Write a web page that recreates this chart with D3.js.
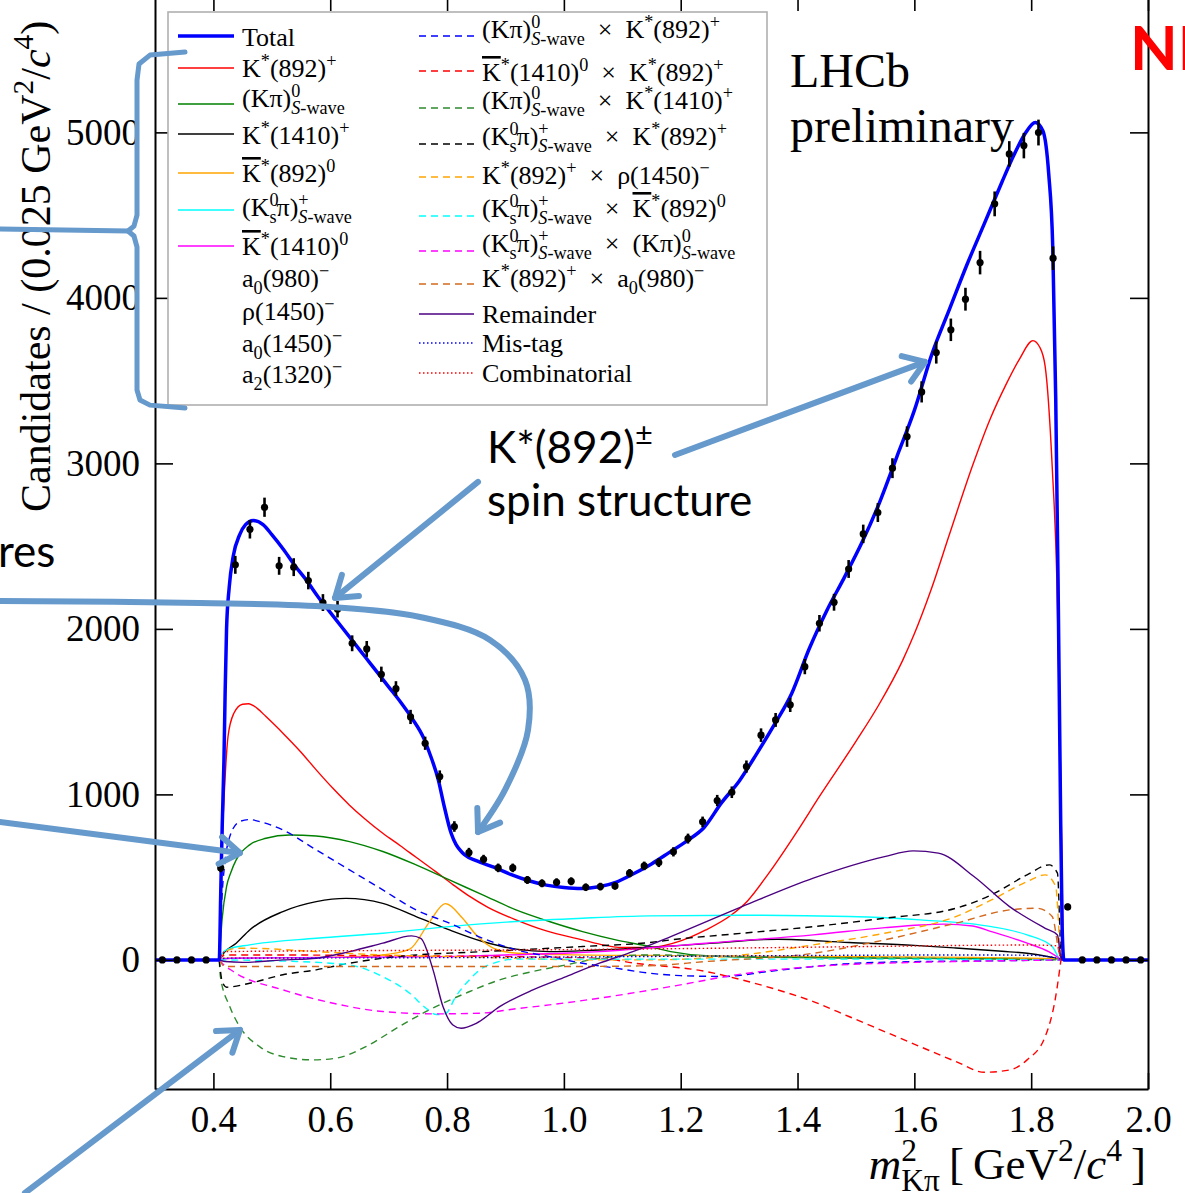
<!DOCTYPE html>
<html>
<head>
<meta charset="utf-8">
<script src="https://cdn.jsdelivr.net/npm/d3@7"></script>
<style>
  body { margin: 0; background: #fff; overflow: hidden; }
  svg { display: block; }
</style>
</head>
<body>
<svg id="chart" width="1185" height="1193"></svg>
<script>
// ---- data (x in GeV^2/c^4, y in candidates / 0.025) ----
const xTicks = [0.4, 0.6, 0.8, 1.0, 1.2, 1.4, 1.6, 1.8, 2.0];
const yTicks = [0, 1000, 2000, 3000, 4000, 5000];

const binCenters = [0.3125,0.3375,0.3625,0.3875,0.4125,0.4375,0.4625,0.4875,0.5125,0.5375,
  0.5625,0.5875,0.6125,0.6375,0.6625,0.6875,0.7125,0.7375,0.7625,0.7875,0.8125,0.8375,
  0.8625,0.8875,0.9125,0.9375,0.9625,0.9875,1.0125,1.0375,1.0625,1.0875,1.1125,1.1375,
  1.1625,1.1875,1.2125,1.2375,1.2625,1.2875,1.3125,1.3375,1.3625,1.3875,1.4125,1.4375,
  1.4625,1.4875,1.5125,1.5375,1.5625,1.5875,1.6125,1.6375,1.6625,1.6875,1.7125,1.7375,
  1.7625,1.7875,1.8125,1.8375,1.8625,1.8875,1.9125,1.9375,1.9625,1.9875];
const binCounts = [0,0,0,0,556,2387,2602,2735,2381,2373,2292,2159,2119,1913,1879,1726,
  1639,1468,1309,1108,806,649,608,556,556,483,463,469,475,439,443,447,524,568,588,653,
  733,834,963,1013,1168,1358,1450,1541,1772,2034,2161,2362,2574,2703,2971,3162,3432,
  3670,3807,3992,4213,4568,4870,4920,4999,4240,320,0,0,0,0,0];
const binErrors = [0,0,0,0,26,54,56,58,54,54,53,51,50,48,48,46,45,43,40,37,32,28,27,
  26,26,24,24,24,24,23,23,23,25,26,27,28,30,32,34,35,37,41,42,43,46,50,51,54,56,57,
  60,62,64,67,68,69,71,75,77,77,78,71,20,0,0,0,0,0];

const totalFit = [[0.30,0],[0.41,0],[0.4125,400],[0.415,800],[0.418,1200],[0.42,1600],
  [0.4225,2000],[0.427,2250],[0.434,2440],[0.445,2570],[0.455,2630],[0.468,2655],
  [0.485,2630],[0.50,2570],[0.52,2480],[0.54,2380],[0.56,2290],[0.58,2190],[0.60,2100],
  [0.62,2010],[0.64,1920],[0.66,1830],[0.68,1740],[0.70,1650],[0.72,1560],[0.74,1460],
  [0.76,1340],[0.77,1250],[0.785,1088],[0.795,930],[0.807,765],[0.815,700],[0.822,665],
  [0.83,635],[0.85,600],[0.88,560],[0.91,515],[0.94,478],[0.97,452],[1.00,438],
  [1.03,432],[1.06,442],[1.09,470],[1.12,522],[1.15,580],[1.18,648],[1.21,718],
  [1.24,800],[1.27,950],[1.30,1080],[1.33,1245],[1.36,1420],[1.39,1610],[1.42,1880],
  [1.45,2110],[1.48,2310],[1.51,2520],[1.54,2760],[1.57,3040],[1.60,3320],[1.63,3660],
  [1.66,3930],[1.69,4200],[1.72,4450],[1.75,4700],[1.77,4860],[1.79,4995],[1.807,5060],
  [1.82,5010],[1.83,4750],[1.837,4300],[1.842,3400],[1.846,2300],[1.85,1000],
  [1.853,200],[1.856,0],[2.0,0]];

const kst892 = [[0.41,0],[0.412,300],[0.415,700],[0.42,1100],[0.425,1350],[0.435,1490],
  [0.45,1545],[0.46,1548],[0.475,1520],[0.49,1470],[0.519,1370],[0.55,1255],[0.576,1148],
  [0.605,1035],[0.633,935],[0.66,850],[0.69,765],[0.72,690],[0.747,620],[0.78,535],
  [0.81,455],[0.838,385],[0.87,318],[0.918,242],[0.97,175],[1.032,121],[1.061,95],
  [1.10,75],[1.146,75],[1.20,115],[1.243,181],[1.286,270],[1.314,355],[1.35,520],
  [1.40,780],[1.437,985],[1.50,1320],[1.539,1540],[1.58,1810],[1.60,1970],[1.628,2230],
  [1.66,2570],[1.70,2990],[1.73,3270],[1.756,3470],[1.78,3630],[1.803,3742],[1.815,3700],
  [1.824,3585],[1.836,2981],[1.844,2296],[1.85,1200],[1.855,0]];
const kpiSwave = [[0.41,0],[0.415,250],[0.4225,443],[0.43,530],[0.439,604],[0.462,695],
  [0.49,735],[0.53,755],[0.576,749],[0.633,715],[0.69,655],[0.747,574],[0.804,483],
  [0.861,393],[0.918,302],[0.975,232],[1.032,171],[1.089,121],[1.146,81],[1.183,50],
  [1.243,25],[1.35,15],[1.6,10],[1.8,8],[1.85,3],[1.855,0]];
const kst1410 = [[0.41,0],[0.42,50],[0.439,101],[0.462,181],[0.519,292],[0.576,352],
  [0.627,372],[0.69,342],[0.747,262],[0.804,181],[0.861,111],[0.918,65],[0.975,50],
  [1.05,58],[1.146,75],[1.25,100],[1.366,125],[1.488,105],[1.60,88],[1.671,72],
  [1.75,52],[1.793,40],[1.848,4],[1.852,0]];
const kstBar892 = [[0.41,0],[0.42,10],[0.5,12],[0.6,15],[0.69,30],[0.736,65],[0.77,230],
  [0.797,340],[0.827,250],[0.85,150],[0.88,70],[0.92,40],[1.0,32],[1.2,25],[1.5,20],
  [1.7,15],[1.85,5],[1.852,0]];
const k0piSwave = [[0.41,0],[0.415,40],[0.425,65],[0.462,91],[0.576,131],[0.69,161],
  [0.804,201],[0.918,232],[1.032,252],[1.146,266],[1.305,270],[1.488,262],[1.61,242],
  [1.732,201],[1.793,151],[1.836,81],[1.848,10],[1.852,0]];
const kstBar1410 = [[0.41,0],[0.43,10],[0.6,15],[0.8,20],[0.9,30],[1.0,40],[1.061,50],
  [1.243,101],[1.427,151],[1.55,195],[1.61,211],[1.65,216],[1.70,205],[1.732,171],
  [1.793,101],[1.83,50],[1.848,10],[1.852,0]];
const remainder = [[0.41,0],[0.42,-10],[0.45,-15],[0.519,0],[0.576,10],[0.633,50],
  [0.69,101],[0.739,145],[0.755,130],[0.776,-60],[0.793,-282],[0.81,-393],[0.824,-413],
  [0.85,-383],[0.89,-282],[0.947,-181],[1.004,-101],[1.061,-20],[1.118,50],[1.183,141],
  [1.305,322],[1.427,494],[1.549,624],[1.598,659],[1.641,645],[1.702,504],[1.763,322],
  [1.824,191],[1.845,151],[1.851,10],[1.853,0]];
const misTag = [[0.41,0],[0.42,10],[0.6,12],[0.9,15],[1.2,22],[1.5,28],[1.7,30],
  [1.8,28],[1.85,5],[1.852,0]];
const combinatorial = [[0.41,0],[0.42,50],[0.6,55],[0.9,60],[1.1,65],[1.3,72],[1.5,80],
  [1.7,88],[1.8,90],[1.845,85],[1.85,0]];

const xKpiK892 = [[0.41,0],[0.415,400],[0.42,600],[0.428,745],[0.445,836],[0.462,848],
  [0.48,835],[0.519,785],[0.576,665],[0.633,544],[0.69,423],[0.747,302],[0.804,222],
  [0.861,131],[0.918,61],[0.975,20],[1.032,-20],[1.089,-50],[1.146,-80],[1.20,-95],
  [1.274,-100],[1.35,-70],[1.427,-40],[1.5,-20],[1.609,-10],[1.75,-5],[1.855,0]];
const xK1410K892 = [[0.41,0],[0.42,30],[0.5,30],[0.7,25],[0.9,20],[1.061,10],[1.122,-20],
  [1.243,-70],[1.305,-121],[1.366,-181],[1.427,-252],[1.488,-342],[1.549,-433],
  [1.61,-524],[1.671,-614],[1.72,-679],[1.763,-665],[1.793,-604],[1.824,-463],
  [1.842,-221],[1.851,0]];
const xKpiK1410 = [[0.41,0],[0.412,-101],[0.428,-282],[0.445,-403],[0.479,-524],
  [0.519,-584],[0.57,-604],[0.61,-594],[0.661,-524],[0.718,-403],[0.775,-292],
  [0.832,-201],[0.89,-121],[0.947,-70],[1.004,-30],[1.061,10],[1.146,30],[1.3,20],
  [1.6,10],[1.85,0]];
const xK0piK892 = [[0.41,0],[0.415,-130],[0.4225,-165],[0.462,-141],[0.519,-90],
  [0.576,-60],[0.633,-20],[0.69,10],[0.747,30],[0.832,45],[0.918,60],[1.032,81],
  [1.146,105],[1.183,121],[1.305,161],[1.427,201],[1.549,252],[1.671,312],[1.732,393],
  [1.793,514],[1.831,574],[1.845,524],[1.851,40],[1.853,0]];
const xK892Rho = [[0.41,0],[0.42,50],[0.44,70],[0.462,70],[0.576,50],[0.69,30],
  [0.804,20],[0.918,10],[1.032,0],[1.146,0],[1.305,30],[1.427,91],[1.549,161],
  [1.671,262],[1.732,362],[1.793,473],[1.824,514],[1.842,443],[1.851,20],[1.853,0]];
const xK0piKbar892 = [[0.41,0],[0.5,-5],[0.6,-20],[0.633,-30],[0.69,-101],[0.736,-201],
  [0.764,-292],[0.782,-330],[0.797,-325],[0.815,-221],[0.838,-121],[0.856,-60],
  [0.884,-15],[0.918,5],[1.0,5],[1.5,5],[1.85,0]];
const xK0piKpi = [[0.41,0],[0.415,-20],[0.434,-70],[0.519,-181],[0.605,-262],[0.69,-312],
  [0.78,-326],[0.856,-322],[0.918,-295],[0.975,-272],[1.061,-231],[1.183,-161],
  [1.305,-85],[1.427,-40],[1.549,-20],[1.671,-10],[1.85,0]];
const xK892A0 = [[0.41,0],[0.42,-40],[0.6,-40],[1.0,-40],[1.146,-35],[1.243,-10],
  [1.427,40],[1.549,121],[1.671,222],[1.763,302],[1.81,312],[1.836,262],[1.848,40],
  [1.851,0]];

// ---- scales ----
const svg = d3.select('#chart');
const serif = "'Liberation Serif', 'Times New Roman', serif";
const x = d3.scaleLinear().domain([0.3, 2.0]).range([155, 1148]);
const y = d3.scaleLinear().domain([-780, 5830]).range([1089, -5]);

// small latex-ish markup: ^{..} _{..} \bar{..} \it{..}
function richText(sel, str, fs) {
  const parts = str.split(/(\^\{[^}]*\}|_\{[^}]*\}|\\bar\{[^}]*\}|\\it\{[^}]*\})/).filter(s => s.length);
  let shift = 0, prevSup = null;
  parts.forEach(p => {
    let kind = 'n', txt = p;
    if (p[0] === '^') { kind = 'sup'; txt = p.slice(2, -1); }
    else if (p[0] === '_') { kind = 'sub'; txt = p.slice(2, -1); }
    else if (p.startsWith('\\bar')) { kind = 'bar'; txt = p.slice(5, -1); }
    else if (p.startsWith('\\it')) { kind = 'it'; txt = p.slice(4, -1); }
    const target = kind === 'sup' ? -0.4 * fs : kind === 'sub' ? 0.27 * fs : 0;
    const size = (kind === 'sup' || kind === 'sub') ? 0.7 * fs : fs;
    const t = sel.append('tspan').attr('dy', target - shift).attr('font-size', size);
    if (kind === 'sub' && txt.startsWith('S-wave')) {
      t.attr('font-style', 'italic').text('S');
      sel.append('tspan').attr('font-size', size).text(txt.slice(1));
    } else {
      t.text(txt);
    }
    if (kind === 'bar') t.style('text-decoration', 'overline');
    if (kind === 'it') t.attr('font-style', 'italic');
    if (kind === 'sub' && prevSup) t.attr('dx', -prevSup.node().getComputedTextLength());
    prevSup = kind === 'sup' ? t : null;
    shift = target;
  });
}

// ---- components ----
const components = [
  {data: kst892, color: '#ff0000', dash: null, w: 1.4},
  {data: kpiSwave, color: '#008000', dash: null, w: 1.4},
  {data: kst1410, color: '#000000', dash: null, w: 1.4},
  {data: kstBar892, color: '#ffa500', dash: null, w: 1.4},
  {data: k0piSwave, color: '#00ffff', dash: null, w: 1.4},
  {data: kstBar1410, color: '#ff00ff', dash: null, w: 1.4},
  {data: xKpiK892, color: '#0000ff', dash: '7,5', w: 1.4},
  {data: xK1410K892, color: '#ff0000', dash: '7,5', w: 1.4},
  {data: xKpiK1410, color: '#2e8b2e', dash: '7,5', w: 1.4},
  {data: xK0piK892, color: '#000000', dash: '7,5', w: 1.4},
  {data: xK892Rho, color: '#ffa500', dash: '7,5', w: 1.4},
  {data: xK0piKbar892, color: '#00ffff', dash: '7,5', w: 1.4},
  {data: xK0piKpi, color: '#ff00ff', dash: '7,5', w: 1.4},
  {data: xK892A0, color: '#d2691e', dash: '7,5', w: 1.4},
  {data: remainder, color: '#4b0082', dash: null, w: 1.4},
  {data: misTag, color: '#0000ff', dash: '1.5,2.5', w: 1.4},
  {data: combinatorial, color: '#ff0000', dash: '1.5,2.5', w: 1.4}
];

svg.append('defs').append('clipPath').attr('id', 'plotclip')
  .append('rect').attr('x', x(0.3)).attr('y', y(5830))
  .attr('width', x(2.0) - x(0.3)).attr('height', y(-780) - y(5830));

const line = d3.line().x(d => x(d[0])).y(d => y(d[1])).curve(d3.curveMonotoneX);
const plot = svg.append('g').attr('clip-path', 'url(#plotclip)');

plot.selectAll('path.comp')
  .data(components)
  .join('path')
  .attr('class', 'comp')
  .attr('d', d => line(d.data))
  .attr('fill', 'none')
  .attr('stroke', d => d.color)
  .attr('stroke-width', d => d.w)
  .attr('stroke-dasharray', d => d.dash);

plot.append('path')
  .attr('d', line(totalFit))
  .attr('fill', 'none')
  .attr('stroke', '#0000ff')
  .attr('stroke-width', 3.5);

// data points
const pts = binCenters.map((c, i) => ({c: c, n: binCounts[i], e: binErrors[i]}));
plot.selectAll('line.err')
  .data(pts.filter(d => d.e > 0))
  .join('line')
  .attr('class', 'err')
  .attr('x1', d => x(d.c)).attr('x2', d => x(d.c))
  .attr('y1', d => y(d.n - d.e)).attr('y2', d => y(d.n + d.e))
  .attr('stroke', '#000').attr('stroke-width', 2.6);
plot.selectAll('circle.pt')
  .data(pts)
  .join('circle')
  .attr('class', 'pt')
  .attr('cx', d => x(d.c)).attr('cy', d => y(d.n))
  .attr('r', 3.6)
  .attr('fill', '#000');

// ---- axes ----
function styleAxis(g) {
  g.attr('font-family', serif).attr('font-size', 37);
  g.select('.domain').attr('stroke-width', 2);
  g.selectAll('.tick line').attr('stroke-width', 1.6);
  g.selectAll('.tick text').attr('fill', '#000');
}
svg.append('g').attr('transform', `translate(0,${y(-780)})`)
  .call(d3.axisBottom(x).tickValues(xTicks).tickSize(-16).tickSizeOuter(0)
    .tickPadding(17).tickFormat(d3.format('.1f')))
  .call(styleAxis);
svg.append('g').attr('transform', `translate(0,${y(5830)})`)
  .call(d3.axisTop(x).tickValues(xTicks).tickSize(-16).tickSizeOuter(0).tickFormat(''))
  .call(styleAxis);
svg.append('g').attr('transform', `translate(${x(0.3)},0)`)
  .call(d3.axisLeft(y).tickValues(yTicks).tickSize(-18).tickSizeOuter(0)
    .tickPadding(15).tickFormat(d3.format('d')))
  .call(styleAxis);
svg.append('g').attr('transform', `translate(${x(2.0)},0)`)
  .call(d3.axisRight(y).tickValues(yTicks).tickSize(-18).tickSizeOuter(0).tickFormat(''))
  .call(styleAxis);

// axis titles
const yLab = svg.append('text').attr('transform', 'translate(50,512) rotate(-90)')
  .attr('font-family', serif).attr('font-size', 42);
richText(yLab, 'Candidates / (0.025 GeV^{2}/\\it{c}^{4})', 42);
const xLab = svg.append('text').attr('x', 1146).attr('y', 1179).attr('text-anchor', 'end')
  .attr('font-family', serif).attr('font-size', 45);
richText(xLab, '\\it{m}^{2}_{Kπ}\u2009[\u2009GeV^{2}/\\it{c}^{4}\u2009]', 45);

svg.append('text').attr('x', 790).attr('y', 87).attr('font-family', serif)
  .attr('font-size', 48).text('LHCb');
svg.append('text').attr('x', 790).attr('y', 142).attr('font-family', serif)
  .attr('font-size', 48).text('preliminary');

// ---- legend ----
const X = '\u2002×\u2002';
const legendLeft = [
  {label: 'Total', color: '#0000ff', dash: null, w: 3.5},
  {label: 'K^{*}(892)^{+}', color: '#ff0000', dash: null, w: 1.4},
  {label: '(Kπ)^{0}_{S-wave}', color: '#008000', dash: null, w: 1.4},
  {label: 'K^{*}(1410)^{+}', color: '#000000', dash: null, w: 1.4},
  {label: '\\bar{K}^{*}(892)^{0}', color: '#ffa500', dash: null, w: 1.4},
  {label: '(K^{0}_{s}π)^{+}_{S-wave}', color: '#00ffff', dash: null, w: 1.4},
  {label: '\\bar{K}^{*}(1410)^{0}', color: '#ff00ff', dash: null, w: 1.4},
  {label: 'a_{0}(980)^{−}', color: null},
  {label: 'ρ(1450)^{−}', color: null},
  {label: 'a_{0}(1450)^{−}', color: null},
  {label: 'a_{2}(1320)^{−}', color: null}
];
const legendRight = [
  {label: '(Kπ)^{0}_{S-wave}' + X + 'K^{*}(892)^{+}', color: '#0000ff', dash: '7,5', w: 1.4},
  {label: '\\bar{K}^{*}(1410)^{0}' + X + 'K^{*}(892)^{+}', color: '#ff0000', dash: '7,5', w: 1.4},
  {label: '(Kπ)^{0}_{S-wave}' + X + 'K^{*}(1410)^{+}', color: '#2e8b2e', dash: '7,5', w: 1.4},
  {label: '(K^{0}_{s}π)^{+}_{S-wave}' + X + 'K^{*}(892)^{+}', color: '#000000', dash: '7,5', w: 1.4},
  {label: 'K^{*}(892)^{+}' + X + 'ρ(1450)^{−}', color: '#ffa500', dash: '7,5', w: 1.4},
  {label: '(K^{0}_{s}π)^{+}_{S-wave}' + X + '\\bar{K}^{*}(892)^{0}', color: '#00ffff', dash: '7,5', w: 1.4},
  {label: '(K^{0}_{s}π)^{+}_{S-wave}' + X + '(Kπ)^{0}_{S-wave}', color: '#ff00ff', dash: '7,5', w: 1.4},
  {label: 'K^{*}(892)^{+}' + X + 'a_{0}(980)^{−}', color: '#d2691e', dash: '7,5', w: 1.4},
  {label: 'Remainder', color: '#4b0082', dash: null, w: 1.4},
  {label: 'Mis-tag', color: '#0000ff', dash: '1.5,2.5', w: 1.4},
  {label: 'Combinatorial', color: '#ff0000', dash: '1.5,2.5', w: 1.4}
];
const leftRows = [46, 77, 107, 144, 182, 216, 255, 287, 320, 352, 383];
const rightRows = [38, 81, 109, 145, 184, 217, 252, 287, 323, 352, 382];

const legend = svg.append('g');
legend.append('rect').attr('x', 168).attr('y', 12).attr('width', 599).attr('height', 393)
  .attr('fill', '#fff').attr('stroke', '#b0b0b0').attr('stroke-width', 1.6);

function drawLegendColumn(items, rows, x0, x1, tx, swatchOffsets) {
  items.forEach((it, i) => {
    const base = rows[i];
    if (it.color) {
      legend.append('line').attr('x1', x0).attr('x2', x1)
        .attr('y1', base - swatchOffsets[i]).attr('y2', base - swatchOffsets[i])
        .attr('stroke', it.color).attr('stroke-width', it.w)
        .attr('stroke-dasharray', it.dash);
    }
    const t = legend.append('text').attr('x', tx).attr('y', base)
      .attr('font-family', serif).attr('font-size', 26);
    richText(t, it.label, 26);
  });
}
drawLegendColumn(legendLeft, leftRows, 178, 234, 242, [10, 9, 3, 10, 9, 6, 9, 0, 0, 0, 0]);
drawLegendColumn(legendRight, rightRows, 419, 474, 482, [2, 10, 1, 1, 7, 1, 1, 3, 9, 9, 9]);

// ---- slide annotations (in data units) ----
const annoColor = '#6699cc';
const bracketPath = [[0.3514,5485],[0.2914,5467],[0.2726,5413],[0.2692,5316],[0.2692,4500],
  [0.2640,4434],[0.2538,4404],[0.2640,4374],[0.2692,4307],[0.2692,3443],[0.2743,3383],
  [0.2914,3352],[0.3514,3334]];
const bracketTail = [[0.0346,4416],[0.2538,4404]];
const arrowSpin = [[1.1902,3051],[1.6182,3613]];
const arrowLow = [[0.853,2888],[0.6082,2187]];
const arrowCurl = [[0.0346,2169],[0.377,2157],[0.5996,2133],[0.7537,2072],[0.8735,1933],
  [0.9334,1692],[0.9386,1389],[0.8992,1027],[0.853,773]];
const arrowSwave = [[0.0346,833],[0.4455,646]];
const arrowInterf = [[0.0774,-1408],[0.4455,-423]];

const anno = svg.append('g').attr('fill', 'none').attr('stroke', annoColor)
  .attr('stroke-width', 6).attr('stroke-linecap', 'round').attr('stroke-linejoin', 'round');
const lin = d3.line().x(d => x(d[0])).y(d => y(d[1]));
const smooth = d3.line().x(d => x(d[0])).y(d => y(d[1])).curve(d3.curveCatmullRom);
anno.append('path').attr('d', lin(bracketPath)).attr('stroke-width', 5);
anno.append('path').attr('d', lin(bracketTail)).attr('stroke-width', 5);

function arrow(pts, curved) {
  anno.append('path').attr('d', (curved ? smooth : lin)(pts));
  const a = pts[pts.length - 2], b = pts[pts.length - 1];
  const bx = x(b[0]), by = y(b[1]);
  const ang = Math.atan2(by - y(a[1]), bx - x(a[0]));
  const L = 24, s = 0.6;
  const head = [[bx - L * Math.cos(ang - s), by - L * Math.sin(ang - s)], [bx, by],
    [bx - L * Math.cos(ang + s), by - L * Math.sin(ang + s)]];
  anno.append('path').attr('d', d3.line()(head));
}
arrow(arrowSpin, false);
arrow(arrowLow, false);
arrow(arrowCurl, true);
arrow(arrowSwave, false);
arrow(arrowInterf, false);

const sans = "Lato, 'Open Sans', sans-serif";
const spinLab = svg.append('text').attr('x', 487).attr('y', 463)
  .attr('font-family', sans).attr('font-size', 44);
richText(spinLab, 'K*(892)^{±}', 44);
svg.append('text').attr('x', 487).attr('y', 516).attr('font-family', sans)
  .attr('font-size', 44).text('spin structure');
svg.append('text').attr('x', -2).attr('y', 567).attr('font-family', sans)
  .attr('font-size', 44).text('res');
svg.append('text').attr('x', 1130).attr('y', 70).attr('font-family', sans)
  .attr('font-size', 62).attr('font-weight', 'bold').attr('fill', '#ff0000').text('NEW');
</script>
</body>
</html>
